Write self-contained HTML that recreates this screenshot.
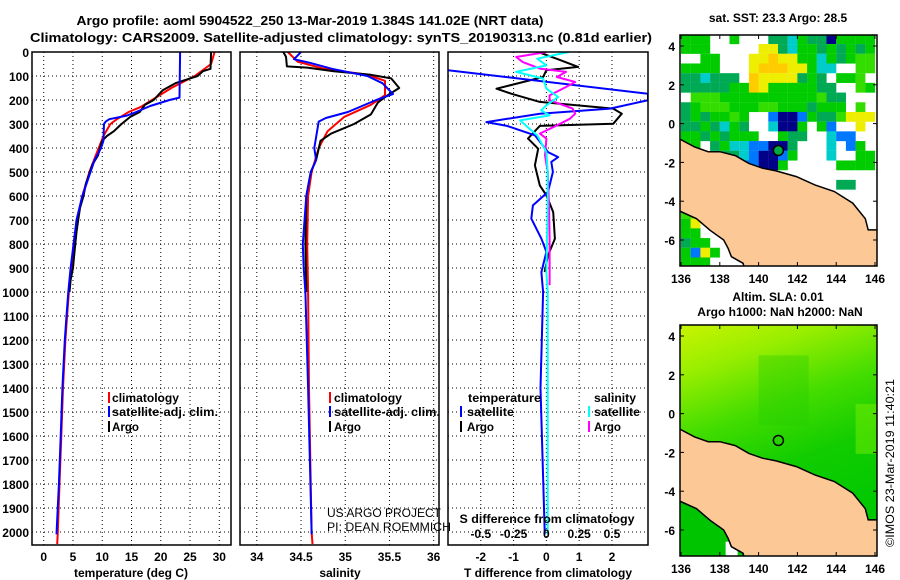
<!DOCTYPE html>
<html><head><meta charset="utf-8"><style>
html,body{margin:0;padding:0;background:#fff;}
svg{display:block;font-family:"Liberation Sans",sans-serif;}
.b{font-weight:bold;font-size:12px;}
</style></head><body>
<svg id="fig" width="900" height="580" viewBox="0 0 900 580" xmlns="http://www.w3.org/2000/svg">
<text x="310" y="25" text-anchor="middle" font-weight="bold" font-size="13" textLength="467" lengthAdjust="spacingAndGlyphs">Argo profile: aoml 5904522_250 13-Mar-2019 1.384S 141.02E (NRT data)</text>
<text x="341" y="42" text-anchor="middle" font-weight="bold" font-size="13" textLength="622" lengthAdjust="spacingAndGlyphs">Climatology: CARS2009. Satellite-adjusted climatology: synTS_20190313.nc (0.81d earlier)</text>
<g id="panels"></g>
<g id="maps"></g>
<text transform="translate(894,463) rotate(-90)" text-anchor="middle" font-size="12" textLength="168" lengthAdjust="spacingAndGlyphs">©IMOS 23-Mar-2019 11:40:21</text>
</svg>
<script>
// ---------- data ----------
const depthTicks = [0,100,200,300,400,500,600,700,800,900,1000,1100,1200,1300,1400,1500,1600,1700,1800,1900,2000];
const tempTicks = [0,5,10,15,20,25,30];
const salTicks = [34,34.5,35,35.5,36];
const tdiffTicks = [-2,-1,0,1,2];
const sdiffTicks = [-0.5,-0.25,0,0.25,0.5];
const sdiffTickLabels = ["-0.5","-0.25","0","0.25","0.5"];

const tArgoDepth = [0,70,80,100,130,160,200,220,250,270,300,330,350,370,400,430,470,500,550,600,650,700,750,800,850,900,950,1000];
const tArgo      = [28.6,28.5,27.2,26.3,22.5,20.3,18.8,17.3,16.4,14.8,13.3,12,10.8,10,9.6,9.3,8.3,7.9,7.2,6.8,6.2,5.9,5.6,5.4,5.2,5.0,4.6,4.4];
const tClimDepth = [0,50,100,150,200,230,250,280,300,350,400,450,500,600,700,800,900,1000,1100,1200,1400,1600,1800,2000,2050];
const tClim      = [29.2,28.6,25.8,21.8,18.5,16.5,14.5,12.5,11.4,10.2,9.4,8.6,7.8,6.6,5.7,5.1,4.7,4.3,4.0,3.7,3.3,3.0,2.7,2.4,2.3];
const tSatDepth  = [0,190,200,225,250,265,280,290,300,370,400,450,500,600,700,800,900,1000,1100,1200,1400,1600,1800,2000,2010];
const tSat       = [23.3,23.2,21.5,18.2,15.8,14.2,11.2,10.6,10.3,10.2,9.8,8.7,8.0,6.6,5.6,5.1,4.6,4.2,3.9,3.6,3.2,2.9,2.6,2.2,2.2];

const sArgoDepth = [0,20,60,65,80,95,110,150,180,210,260,300,340,370,450,500,600,800,1000];
const sArgo      = [34.30,34.33,34.34,34.57,34.87,35.29,35.52,35.61,35.48,35.37,35.29,35.10,34.84,34.72,34.67,34.61,34.56,34.55,34.56];
const sClimDepth = [0,40,70,95,120,180,220,270,330,400,500,600,800,1000,1400,2000,2050];
const sClim      = [34.35,34.46,34.76,35.25,35.45,35.45,35.29,34.99,34.80,34.70,34.62,34.58,34.57,34.58,34.59,34.62,34.63];
const sSatDepth  = [0,30,45,70,100,130,175,200,250,275,290,400,450,500,600,800,900,1000,1400,2000,2010];
const sSat       = [34.50,34.42,34.60,34.85,35.25,35.42,35.54,35.35,35.03,34.78,34.70,34.65,34.67,34.61,34.56,34.52,34.53,34.55,34.58,34.62,34.62];

const dtArgoDepth = [0,28,62,76,104,153,174,208,236,257,299,308,361,403,472,556,597,667,778,847,917];
const dtArgo      = [-0.25,0.31,0.97,0,-0.1,-1.52,-1.06,-0.2,2.04,2.3,2.04,-0.2,-0.56,-0.25,-0.35,-0.2,0,0.21,0.26,0.05,-0.05];
const dtSatDepth  = [60,76,174,201,236,257,292,308,347,417,438,458,500,583,639,694,778,833,917,1000,1400,2000,2010];
const dtSat       = [-3.6,-3.0,3.1,3.1,1.94,-0.2,-1.83,-1.2,-0.35,0.05,0.36,0.15,0.2,0.05,-0.41,-0.46,-0.15,0,-0.15,-0.1,-0.18,-0.05,-0.05];
const dsSatDepth  = [0,28,56,83,111,153,188,222,243,264,285,319,347,417,500,639,778,917,1000,1400,2000,2010];
const dsSat       = [0.17,-0.07,0,-0.23,-0.025,0,0.09,0,-0.04,0.025,-0.2,-0.13,-0.07,0,0.01,0.01,0.005,0,0.01,0.01,0.01,0.01];
const dsArgoDepth = [0,21,42,69,83,104,125,146,181,201,236,257,278,306,340,361,431,500,639,778,917,972];
const dsArgo      = [0,-0.23,-0.18,-0.05,0.15,0.08,0.22,0.15,0.025,0.025,0.2,0.22,0.18,0.08,-0.05,0,-0.01,0.01,0.02,0.025,0.025,0.025];

// ---------- helpers ----------
const NS="http://www.w3.org/2000/svg";
function mk(tag,attrs,parent){const e=document.createElementNS(NS,tag);for(const k in attrs)e.setAttribute(k,attrs[k]);parent.appendChild(e);return e;}
const Y0=52,YB=545,PPM=0.24;
function yD(d){return Y0+d*PPM;}
const gPanels=document.getElementById('panels');

function makePanel(name,x0,x1,xmin,xmax){
  const g=mk('g',{},gPanels);
  
  
  const cid='clip-'+name;
  const cp=mk('clipPath',{id:cid},g);
  mk('rect',{x:x0,y:Y0,width:x1-x0,height:YB-Y0},cp);
  const sx=v=>x0+(v-xmin)/(xmax-xmin)*(x1-x0);
  return {g,sx,x0,x1,cid};
}
function hgrid(p){
  depthTicks.forEach(d=>{if(d===0)return;
    const l=mk('line',{x1:p.x0,x2:p.x1,y1:yD(d),y2:yD(d),stroke:'#000','stroke-width':1,'stroke-dasharray':'1,3'},p.g);
    
    
  });
}
function vgrid(p,ticks,labels,nm){
  ticks.forEach((v,i)=>{
    const x=p.sx(v);
    const l=mk('line',{x1:x,x2:x,y1:Y0,y2:YB,stroke:'#000','stroke-width':1,'stroke-dasharray':'1,3'},p.g);
    
    
    const t=mk('text',{x:x,y:561,'text-anchor':'middle',class:'b'},p.g);
    t.textContent=labels?labels[i]:String(v);
    
    
  });
}
function frame(p){
  const r=mk('rect',{x:p.x0,y:Y0,width:p.x1-p.x0,height:YB-Y0,fill:'none',stroke:'#000','stroke-width':1.5},p.g);
  
  
}
function line(p,depths,vals,color,w,nm,scale){
  const sc=scale||(v=>v);
  const pts=depths.map((d,i)=>p.sx(sc(vals[i])).toFixed(1)+','+yD(d).toFixed(1)).join(' ');
  const e=mk('polyline',{points:pts,fill:'none',stroke:color,'stroke-width':w,'stroke-linejoin':'round','clip-path':'url(#'+p.cid+')'},p.g);
  
  
}
function txt(parent,x,y,s,nm,opts){
  const a={x:x,y:y,class:'b'};Object.assign(a,opts||{});
  const t=mk('text',a,parent);t.textContent=s;
  
  
  return t;
}
function legBar(parent,x,y,color,nm){
  const r=mk('rect',{x:x,y:y-10,width:2,height:11,fill:color},parent);
  
  
}

// ---------- panel 1: temperature ----------
const p1=makePanel('temperature-panel',32,231,-2,32);
hgrid(p1);vgrid(p1,tempTicks,null,'temperature');
depthTicks.forEach(d=>{const t=txt(p1.g,29,yD(d)+5,String(d),'depth-tick-label',{'text-anchor':'end'});});
line(p1,tClimDepth,tClim,'#ff0000',2,'temperature-climatology-line');
line(p1,tArgoDepth,tArgo,'#000000',2,'temperature-argo-line');
line(p1,tSatDepth,tSat,'#0000ff',2,'temperature-satellite-line');
frame(p1);
legBar(p1.g,108,402,'#ff0000','legend-climatology-swatch');txt(p1.g,112,402,'climatology','legend-climatology',{textLength:67,lengthAdjust:'spacingAndGlyphs'});
legBar(p1.g,108,416,'#0000ff','legend-satellite-swatch');txt(p1.g,112,416,'satellite-adj. clim.','legend-satellite',{textLength:106,lengthAdjust:'spacingAndGlyphs'});
legBar(p1.g,108,431,'#000000','legend-argo-swatch');txt(p1.g,112,431,'Argo','legend-argo',{textLength:27,lengthAdjust:'spacingAndGlyphs'});
txt(p1.g,131,577,'temperature (deg C)','x-axis-title-temperature',{'text-anchor':'middle'});

// ---------- panel 2: salinity ----------
const p2=makePanel('salinity-panel',240,439,33.81,36.06);
hgrid(p2);vgrid(p2,salTicks,null,'salinity');
line(p2,sClimDepth,sClim,'#ff0000',2,'salinity-climatology-line');
line(p2,sArgoDepth,sArgo,'#000000',2,'salinity-argo-line');
line(p2,sSatDepth,sSat,'#0000ff',2,'salinity-satellite-line');
frame(p2);
legBar(p2.g,329,402,'#ff0000','legend-climatology-swatch');txt(p2.g,334,402,'climatology','legend-climatology',{textLength:68,lengthAdjust:'spacingAndGlyphs'});
legBar(p2.g,329,416,'#0000ff','legend-satellite-swatch');txt(p2.g,334,416,'satellite-adj. clim.','legend-satellite',{textLength:106,lengthAdjust:'spacingAndGlyphs'});
legBar(p2.g,329,431,'#000000','legend-argo-swatch');txt(p2.g,334,431,'Argo','legend-argo',{textLength:27,lengthAdjust:'spacingAndGlyphs'});
txt(p2.g,327,517,'US ARGO PROJECT','credit-project',{class:'',  'font-size':12,textLength:114,lengthAdjust:'spacingAndGlyphs'});
txt(p2.g,327,531,'PI: DEAN ROEMMICH','credit-pi',{class:'','font-size':12,textLength:124,lengthAdjust:'spacingAndGlyphs'});
txt(p2.g,340,577,'salinity','x-axis-title-salinity',{'text-anchor':'middle'});

// ---------- panel 3: differences ----------
const p3=makePanel('difference-panel',448,648,-3,3.1);
hgrid(p3);vgrid(p3,tdiffTicks,null,'t-difference');
const sToT=v=>v*4;
line(p3,dtArgoDepth,dtArgo,'#000000',2,'t-diff-argo-line');
line(p3,dtSatDepth,dtSat,'#0000ff',2,'t-diff-satellite-line');
line(p3,dsArgoDepth,dsArgo,'#ff00ff',2,'s-diff-argo-line',sToT);
line(p3,dsSatDepth,dsSat,'#00ffff',2,'s-diff-satellite-line',sToT);
frame(p3);
sdiffTicks.forEach((v,i)=>{txt(p3.g,p3.sx(sToT(v)),538,sdiffTickLabels[i],'s-difference-tick-label',{'text-anchor':'middle'});});
txt(p3.g,547,523,'S difference from climatology','s-difference-axis-title',{'text-anchor':'middle',textLength:175,lengthAdjust:'spacingAndGlyphs'});
txt(p3.g,468,402,'temperature','legend-temperature-header',{textLength:73,lengthAdjust:'spacingAndGlyphs'});
txt(p3.g,594,402,'salinity','legend-salinity-header',{textLength:42,lengthAdjust:'spacingAndGlyphs'});
legBar(p3.g,460,416,'#0000ff','legend-t-satellite-swatch');txt(p3.g,467,416,'satellite','legend-t-satellite',{textLength:47,lengthAdjust:'spacingAndGlyphs'});
legBar(p3.g,460,431,'#000000','legend-t-argo-swatch');txt(p3.g,467,431,'Argo','legend-t-argo',{textLength:27,lengthAdjust:'spacingAndGlyphs'});
legBar(p3.g,588,416,'#00ffff','legend-s-satellite-swatch');txt(p3.g,594,416,'satellite','legend-s-satellite',{textLength:46,lengthAdjust:'spacingAndGlyphs'});
legBar(p3.g,588,431,'#ff00ff','legend-s-argo-swatch');txt(p3.g,594,431,'Argo','legend-s-argo',{textLength:27,lengthAdjust:'spacingAndGlyphs'});
txt(p3.g,548,577,'T difference from climatology','x-axis-title-t-difference',{'text-anchor':'middle'});

// ---------- maps ----------
const gMaps=document.getElementById('maps');
const latTicks=[4,2,0,-2,-4,-6];
const lonTicks=[136,138,140,142,144,146];
const sstRows=[
"ggg..g...ttcgttngggg",
"ggg.....yytcggtgtgtg",
"..gg...yyoyyggcgtgll",
"gggg...yoooyygcc..ll",
"ttcttt.oyyyytgt.ggl.",
"tttttggoygggggtt..lg",
".lllggggggggggltt...",
"tglllgggllgggtggg.l.",
"tgtgglg..bnnbgttlyyy",
"ttgtcgt..cnng.gb..y.",
"ggtgtggg..gtt..cbb..",
"gg.tgccbbnnt...c.bg.",
"...tttcbnnbg...c..gg",
"......bbnng.....gggg",
"....................",
"................tt..",
"....................",
"....................",
"llg.................",
"gy..................",
"gg..................",
"tgg.................",
"gbyg................",
"ggg................."];
const sstColors={g:'#00cc00',l:'#33dd00',t:'#00aa55',y:'#eeee00',o:'#ffcc00',c:'#00cccc',b:'#0077ff',n:'#000088'};
const coastN=[[135.9,-0.78],[136.7,-1.2],[137.4,-1.45],[138.0,-1.45],[138.8,-1.65],[139.5,-2.05],[140.2,-2.3],[140.9,-2.44],[141.95,-2.73],[142.9,-3.16],[143.9,-3.5],[144.85,-4.1],[145.5,-4.9],[145.65,-5.48],[146.3,-5.48],[146.3,-7.6],[139.3,-7.6],[139.2,-7.2],[138.6,-6.86],[138.43,-6.43],[138.2,-6.0],[137.5,-5.5],[136.8,-4.9],[136.0,-4.54],[135.9,-4.55]];

function drawMap(name,top,kind){
  const g=mk('g',{},gMaps);
  
  
  const X0=680,X1=877,Y1=top+231;
  const px=lon=>681+(lon-136)*19.4;
  const py=lat=>top+11+(4-lat)*19.4;
  const cid='clip-'+name;
  const cp=mk('clipPath',{id:cid},g);mk('rect',{x:X0,y:top,width:X1-X0,height:Y1-top},cp);
  const body=mk('g',{'clip-path':'url(#'+cid+')'},g);
  if(kind==='sst'){
    sstRows.forEach((row,r)=>{for(let c=0;c<20;c++){const ch=row[c];if(!sstColors[ch])continue;
      const lon=136+c*0.5,lat=4.6-r*0.5;
      const e=mk('rect',{x:px(lon),y:py(lat),width:9.8,height:9.8,fill:sstColors[ch]},body);
      
      
    }});
  } else {
    const defs=mk('defs',{},g);
    const lg=mk('linearGradient',{id:'slaGrad',x1:0,y1:0,x2:0.3,y2:1},defs);
    [['0','#c8f400'],['0.2','#99ee00'],['0.45','#44dd00'],['0.7','#11cc00'],['1','#00c800']].forEach(s=>mk('stop',{offset:s[0],'stop-color':s[1]},lg));
    const bg=mk('rect',{x:X0,y:top,width:X1-X0,height:Y1-top,fill:'url(#slaGrad)'},body);
    
    
    mk('rect',{x:px(140),y:py(3),width:50,height:70,fill:'#22cc00',opacity:0.35},body);
    mk('rect',{x:px(145),y:py(0.5),width:25,height:50,fill:'#77ee00',opacity:0.5},body);
    mk('rect',{x:px(136),y:py(-4.5),width:px(138.4)-px(136),height:70,fill:'#00c400'},body);
    mk('rect',{x:px(138.3),y:py(-6.6),width:12,height:30,fill:'#ffffff'},body);
    mk('polygon',{points:[[136,-1.5],[136.8,-1.5],[136.8,-2.2],[136,-2.9]].map(p=>px(p[0])+','+py(p[1])).join(' '),fill:'#00aa44'},body);
  }
  const land=mk('polygon',{points:coastN.map(p=>px(p[0]).toFixed(1)+','+py(p[1]).toFixed(1)).join(' '),fill:'#fcc896',stroke:'#000','stroke-width':1.5},body);
  
  
  const c=mk('circle',{cx:px(141.02),cy:py(-1.384),r:5,fill:kind==='sst'?'#00aa44':'none',stroke:'#000','stroke-width':1.5},g);
  
  
  const fr=mk('rect',{x:X0,y:top,width:X1-X0,height:Y1-top,fill:'none',stroke:'#000','stroke-width':1.5},g);
  
  
  latTicks.forEach(l=>{const y=py(l);
    mk('line',{x1:X0,x2:X0+4,y1:y,y2:y,stroke:'#000'},g);mk('line',{x1:X1-4,x2:X1,y1:y,y2:y,stroke:'#000'},g);
    txt(g,675,y+5,String(l),'latitude-tick-label',{'text-anchor':'end'});});
  lonTicks.forEach(l=>{const x=px(l);
    mk('line',{x1:x,x2:x,y1:top,y2:top+4,stroke:'#000'},g);mk('line',{x1:x,x2:x,y1:Y1-4,y2:Y1,stroke:'#000'},g);
    txt(g,x,Y1+17,String(l),'longitude-tick-label',{'text-anchor':'middle'});});
}
drawMap('sst-map',35,'sst');
txt(gMaps,778,22,'sat. SST: 23.3 Argo: 28.5','sst-map-title',{'text-anchor':'middle'});
drawMap('sla-map',325,'sla');
txt(gMaps,778,301,'Altim. SLA: 0.01','sla-map-title',{'text-anchor':'middle'});
txt(gMaps,780,316,'Argo h1000: NaN h2000: NaN','sla-map-subtitle',{'text-anchor':'middle'});
</script>
</body></html>
